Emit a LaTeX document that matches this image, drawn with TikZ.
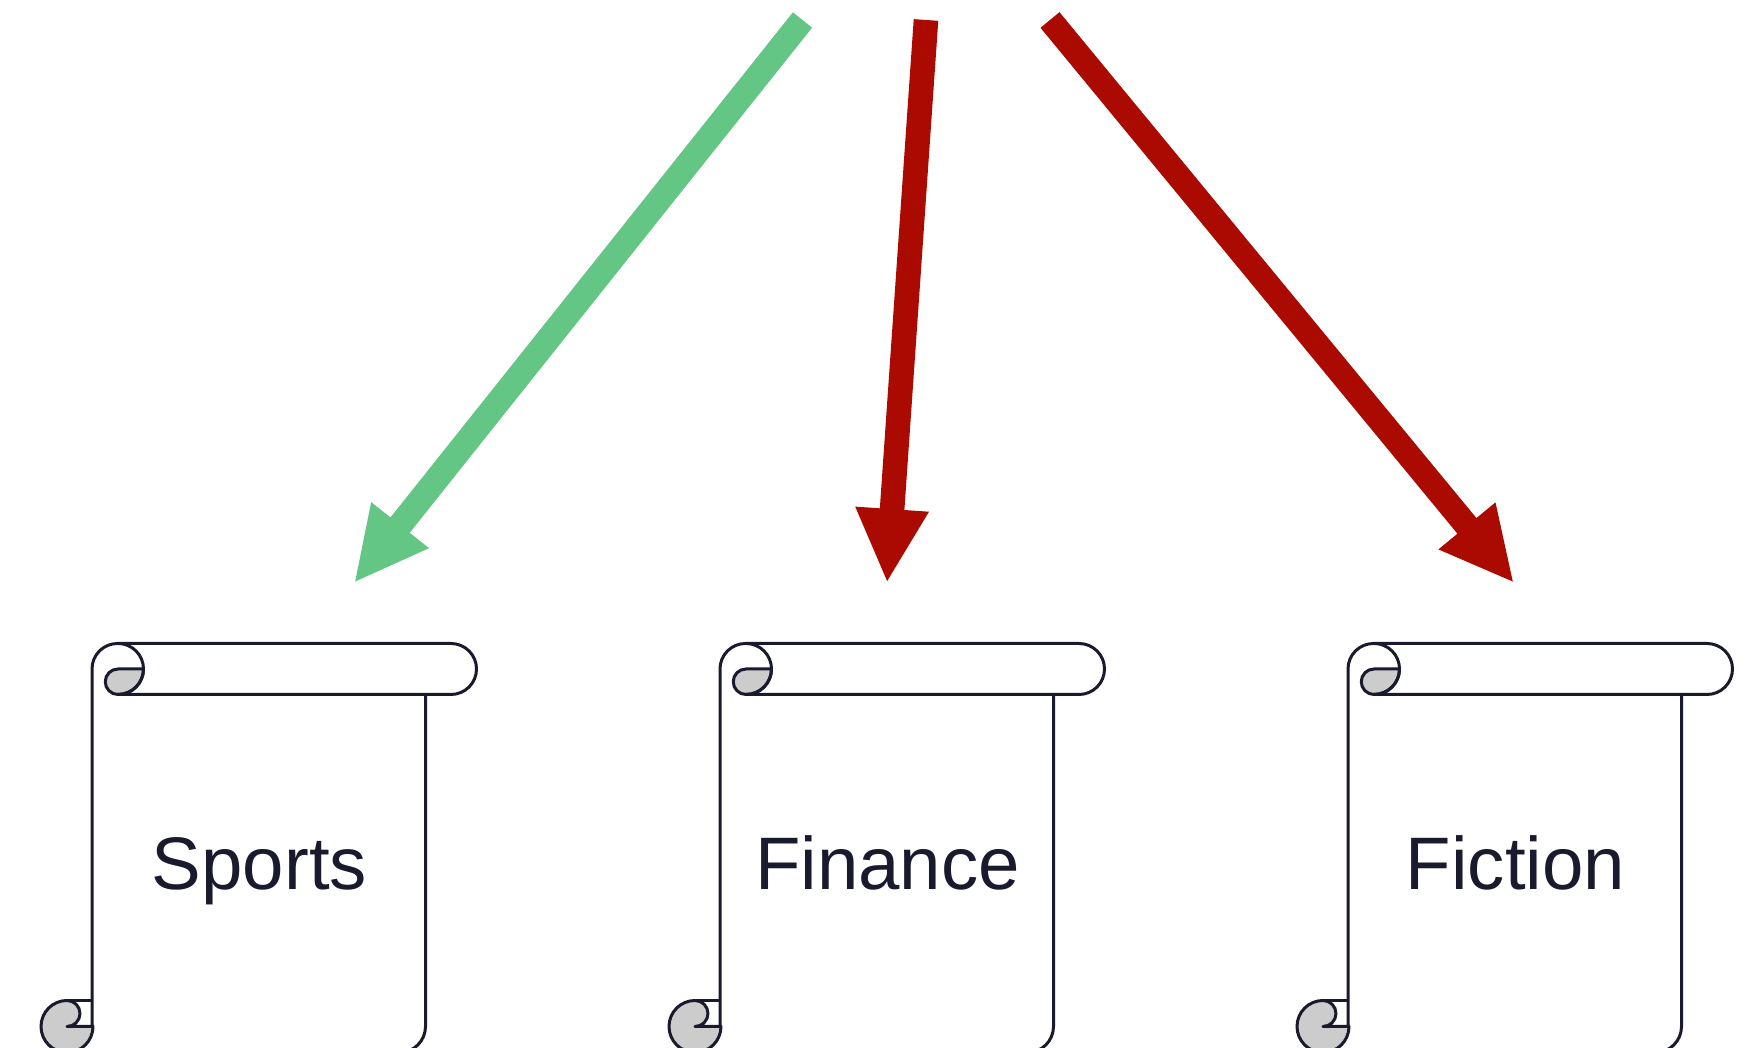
\documentclass[tikz,border=0pt]{standalone}
\usepackage{fontspec}
\setmainfont{Liberation Sans}
\usetikzlibrary{arrows.meta}
\definecolor{inkdark}{HTML}{1A1A2E}
\definecolor{votegreen}{HTML}{63C685}
\definecolor{votered}{HTML}{AA0A00}
\definecolor{rollgray}{HTML}{CCCCCC}
\tikzset{
  scrollline/.style={draw=inkdark, line width=1.5pt, line join=round},
  votearrow/.style={line width=12.3pt, -{Triangle[length=37pt,width=34pt]}},
  scrollpage/.pic={
    \draw [scrollline, fill=rollgray] (51,-25.5) -- (26,-25.5) arc (90:270:12.75) arc (-90:0:25.5);
    \draw [scrollline, fill=rollgray] (-25,-357) arc (90:360:26) -- (-25,-383) arc (-90:90:13);
    \draw [scrollline] (-25,-357) -- (0,-357);
    \draw [scrollline] (0,-383) -- (0,-25.5) arc (180:90:25.5) -- (359,0) arc (90:-90:25.5) -- (26,-51);
    \draw [scrollline] (26,0) arc (90:-90:25.5);
    \draw [scrollline] (333.5,-51) -- (333.5,-383) arc (0:-90:26);
    \node [text=inkdark, font=\fontsize{37.2pt}{40pt}\selectfont, anchor=base] (label) at (167.5,-246) {#1};
  }
}

\begin{document}
\begin{tikzpicture}[x=0.5pt, y=0.5pt]
\clip (0,0) rectangle (1758,1048);

\pic (sports) at (92,404.5) {scrollpage=Sports};
\pic (finance) at (720,404.5) {scrollpage=Finance};
\pic (fiction) at (1348,404.5) {scrollpage=Fiction};

\coordinate (sportsFrom) at (802.5,1028);
\coordinate (financeFrom) at (926,1028);
\coordinate (fictionFrom) at (1050,1028);
\coordinate (sportsTip) at (354,465);
\coordinate (financeTip) at (887,465);
\coordinate (fictionTip) at (1514,465);

\draw [votearrow, votegreen] (sportsFrom) -- (sportsTip);
\draw [votearrow, votered] (financeFrom) -- (financeTip);
\draw [votearrow, votered] (fictionFrom) -- (fictionTip);
\end{tikzpicture}
\end{document}
